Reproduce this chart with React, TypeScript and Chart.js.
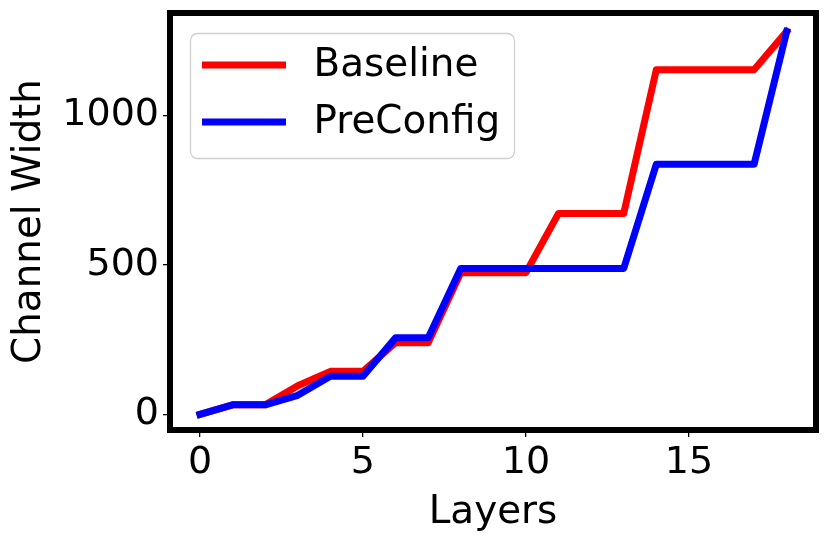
import React, { useEffect, useRef } from "react";
import { Chart, registerables } from "chart.js";

Chart.register(...registerables);

const layers = [0, 1, 2, 3, 4, 5, 6, 7, 8, 9, 10, 11, 12, 13, 14, 15, 16, 17, 18];
const baseline = [0, 32, 32, 96, 144, 144, 240, 240, 474, 474, 474, 672, 672, 672, 1152, 1152, 1152, 1152, 1280];
const preConfig = [0, 32, 32, 64, 128, 128, 256, 256, 488, 488, 488, 488, 488, 488, 836, 836, 836, 836, 1280];
const xTicks = [0, 5, 10, 15];
const yTicks = [0, 500, 1000];
const seriesNames = ["Baseline", "PreConfig"];
const seriesColors = ["#ff0000", "#0000ff"];

const FONT = "'DejaVu Sans', sans-serif";
const TICK_SIZE = 38;
const TITLE_SIZE = 38.9;

const framePlugin = {
  id: "frame",
  afterDatasetsDraw(chart: any) {
    const { ctx, chartArea } = chart;
    ctx.save();
    ctx.strokeStyle = "#000000";
    ctx.lineWidth = 6;
    ctx.strokeRect(chartArea.left, chartArea.top, chartArea.right - chartArea.left, chartArea.bottom - chartArea.top);
    ctx.restore();
  },
};

const legendPlugin = {
  id: "boxLegend",
  afterDraw(chart: any) {
    const { ctx, chartArea } = chart;
    const x0 = chartArea.left + 20.5;
    const y0 = chartArea.top + 20.5;
    const w = 324;
    const h = 125;
    const r = 7;
    ctx.save();
    ctx.beginPath();
    ctx.moveTo(x0 + r, y0);
    ctx.lineTo(x0 + w - r, y0);
    ctx.arcTo(x0 + w, y0, x0 + w, y0 + r, r);
    ctx.lineTo(x0 + w, y0 + h - r);
    ctx.arcTo(x0 + w, y0 + h, x0 + w - r, y0 + h, r);
    ctx.lineTo(x0 + r, y0 + h);
    ctx.arcTo(x0, y0 + h, x0, y0 + h - r, r);
    ctx.lineTo(x0, y0 + r);
    ctx.arcTo(x0, y0, x0 + r, y0, r);
    ctx.closePath();
    ctx.fillStyle = "rgba(255,255,255,0.8)";
    ctx.fill();
    ctx.strokeStyle = "#d0d0d0";
    ctx.lineWidth = 1.3;
    ctx.stroke();
    chart.data.datasets.forEach((ds: any, i: number) => {
      const cy = y0 + 31.5 + i * 57;
      ctx.beginPath();
      ctx.strokeStyle = ds.borderColor;
      ctx.lineWidth = 7;
      ctx.lineCap = "butt";
      ctx.moveTo(x0 + 11.5, cy);
      ctx.lineTo(x0 + 95.5, cy);
      ctx.stroke();
      ctx.fillStyle = "#000000";
      ctx.font = `${TITLE_SIZE}px ${FONT}`;
      ctx.textBaseline = "middle";
      ctx.textAlign = "left";
      ctx.fillText(ds.label, x0 + 123, cy + 1);
    });
    ctx.restore();
  },
};

export default function App() {
  const ref = useRef<HTMLCanvasElement | null>(null);
  useEffect(() => {
    if (!ref.current) return;
    const chart = new Chart(ref.current, {
      type: "line",
      data: {
        datasets: [
          {
            label: seriesNames[0],
            data: layers.map((l, i) => ({ x: l, y: baseline[i] })),
            borderColor: seriesColors[0],
            backgroundColor: seriesColors[0],
            borderWidth: 7,
            pointRadius: 0,
            tension: 0,
            borderJoinStyle: "round",
            borderCapStyle: "square",
            order: 2,
          },
          {
            label: seriesNames[1],
            data: layers.map((l, i) => ({ x: l, y: preConfig[i] })),
            borderColor: seriesColors[1],
            backgroundColor: seriesColors[1],
            borderWidth: 7,
            pointRadius: 0,
            tension: 0,
            borderJoinStyle: "round",
            borderCapStyle: "square",
            order: 1,
          },
        ],
      },
      options: {
        animation: false,
        responsive: false,
        maintainAspectRatio: false,
        layout: { padding: { top: 13, right: 15, left: 0, bottom: 0 } },
        plugins: { legend: { display: false }, tooltip: { enabled: false } },
        scales: {
          x: {
            type: "linear",
            min: -0.92,
            max: 18.9,
            afterFit: (s: any) => {
              s.height = 114;
              s.paddingLeft = 0;
              s.paddingRight = 0;
            },
            afterBuildTicks: (s: any) => {
              s.ticks = xTicks.map((v) => ({ value: v }));
            },
            grid: { drawOnChartArea: false, tickLength: 7, color: "#000000", lineWidth: 1.3 },
            border: { display: false },
            ticks: {
              color: "#000000",
              font: { family: FONT, size: TICK_SIZE },
              padding: 3,
              maxRotation: 0,
              autoSkip: false,
              callback: (v: any) => String(v),
            },
            title: { display: true, text: "Layers", color: "#000000", font: { family: FONT, size: TITLE_SIZE }, padding: { top: 0, bottom: 8 } },
          },
          y: {
            type: "linear",
            min: -52,
            max: 1342,
            afterFit: (s: any) => {
              s.width = 170;
              s.paddingTop = 0;
              s.paddingBottom = 0;
            },
            afterBuildTicks: (s: any) => {
              s.ticks = yTicks.map((v) => ({ value: v }));
            },
            grid: { drawOnChartArea: false, tickLength: 7, color: "#000000", lineWidth: 1.3 },
            border: { display: false },
            ticks: {
              color: "#000000",
              font: { family: FONT, size: TICK_SIZE },
              padding: 4,
              autoSkip: false,
              callback: (v: any) => String(v),
            },
            title: { display: true, text: "Channel Width", color: "#000000", font: { family: FONT, size: TITLE_SIZE }, padding: { top: 6.5, bottom: 0 } },
          },
        },
      },
      plugins: [framePlugin, legendPlugin],
    } as any);
    return () => chart.destroy();
  }, []);
  return (
    <div style={{ position: "absolute", left: 0, top: 0, width: 831, height: 544, background: "#ffffff" }}>
      <canvas ref={ref} width={831} height={544} />
    </div>
  );
}
